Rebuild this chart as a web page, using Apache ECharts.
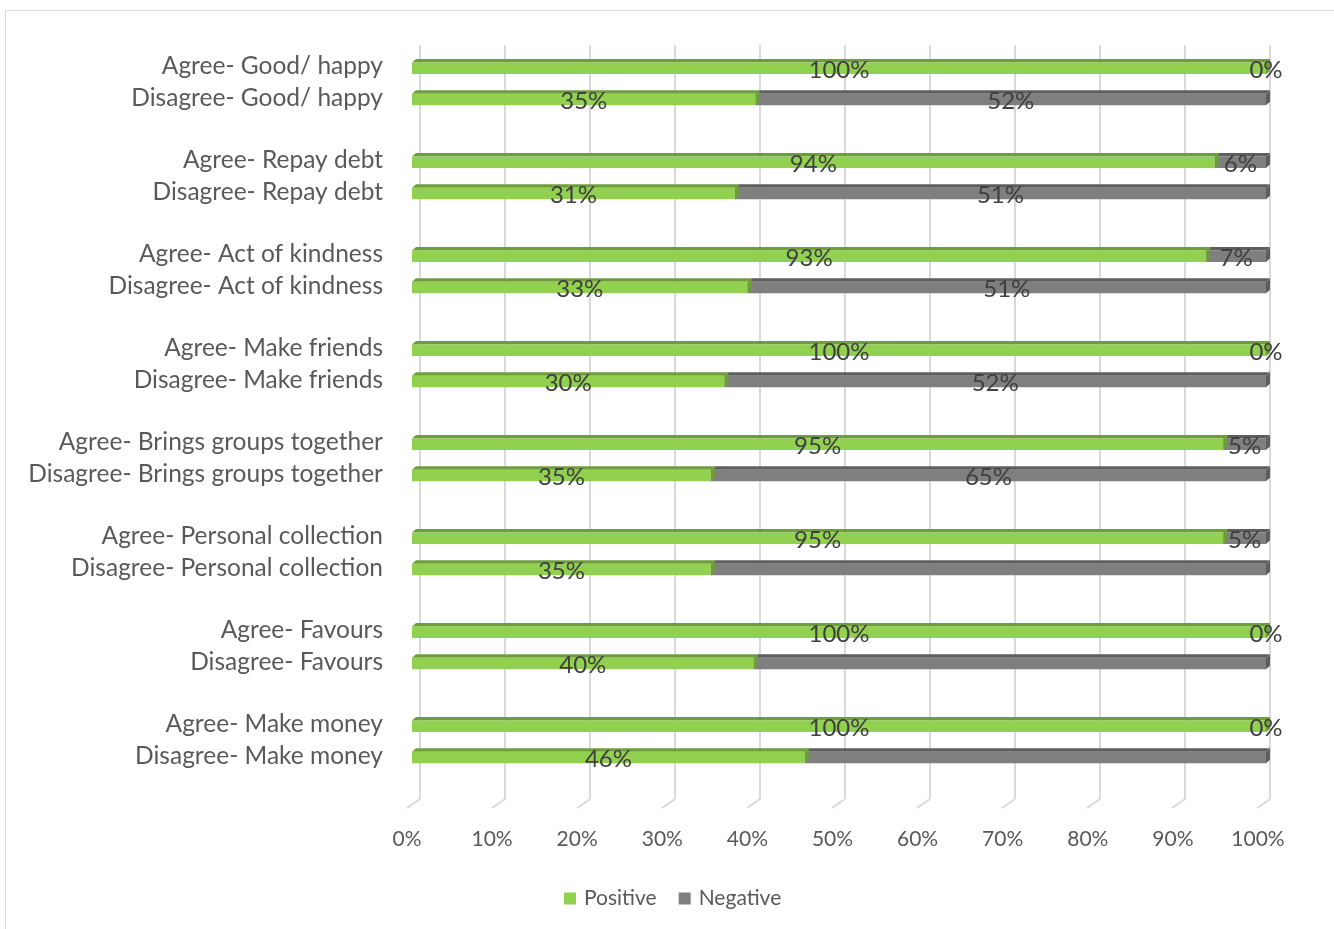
<!DOCTYPE html>
<html>
<head>
<meta charset="utf-8">
<script src="https://cdn.jsdelivr.net/npm/echarts@6/dist/echarts.min.js"></script>
<style>
html,body{margin:0;padding:0;background:#fff;overflow:hidden;}
#frame{position:absolute;left:5px;top:10px;width:1340px;height:940px;border:1px solid #d9d9d9;box-sizing:border-box;}
#chart{position:absolute;left:0;top:0;width:1334px;height:929px;}
</style>
</head>
<body>
<div id="frame"></div>
<div id="chart"></div>
<script>
// ---- data (top to bottom) ----
var categories = [
  'Agree- Good/ happy', 'Disagree- Good/ happy', ' ',
  'Agree- Repay debt', 'Disagree- Repay debt', '  ',
  'Agree- Act of kindness', 'Disagree- Act of kindness', '   ',
  'Agree- Make friends', 'Disagree- Make friends', '    ',
  'Agree- Brings groups together', 'Disagree- Brings groups together', '     ',
  'Agree- Personal collection', 'Disagree- Personal collection', '      ',
  'Agree- Favours', 'Disagree- Favours', '       ',
  'Agree- Make money', 'Disagree- Make money', '        '
];
// null = empty spacer slot
var positive = [100, 35, null, 94, 31, null, 93, 33, null, 100, 30, null, 95, 35, null, 95, 35, null, 100, 40, null, 100, 46, null];
var negative = [0, 52, null, 6, 51, null, 7, 51, null, 0, 52, null, 5, 65, null, 5, 65, null, 0, 60, null, 0, 54, null];
// which negative values carry a visible data label
var negativeLabelShown = [true, true, null, true, true, null, true, true, null, true, true, null, true, true, null, true, false, null, true, false, null, true, false, null];
var xTicks = [0, 10, 20, 30, 40, 50, 60, 70, 80, 90, 100];

// ---- build 100% stacked segments ----
var posData = [], negData = [];
for (var i = 0; i < categories.length; i++) {
  if (positive[i] == null) continue;
  var total = positive[i] + negative[i];
  var pShare = positive[i] / total * 100;
  posData.push([0, pShare, i, positive[i], 1]);
  negData.push([pShare, 100, i, negative[i], negativeLabelShown[i] ? 1 : 0]);
}

function makeRender(front, dark) {
  return function (params, api) {
    var s = api.value(0), e = api.value(1), cat = api.value(2);
    var p0 = api.coord([s, cat]);
    var p1 = api.coord([e, cat]);
    var c = p0[1];
    var x0 = p0[0], x1 = p1[0];
    var dx = 4;
    return {
      type: 'group', children: [
        { type: 'polygon', shape: { points: [[x0, c - 4], [x1, c - 4], [x1 + dx, c - 7.5], [x0 + dx, c - 7.5]] }, style: { fill: dark } },
        { type: 'rect', shape: { x: x0, y: c - 4, width: Math.max(0, x1 - x0), height: 11.5 }, style: { fill: front } },
        { type: 'polygon', shape: { points: [[x1, c - 4], [x1 + dx, c - 7.5], [x1 + dx, c + 4], [x1, c + 7.5]] }, style: { fill: dark } }
      ]
    };
  };
}
function renderLabel(params, api) {
  var s = api.value(0), e = api.value(1), cat = api.value(2);
  var raw = api.value(3), show = api.value(4);
  if (!show) return null;
  var p0 = api.coord([s, cat]);
  var p1 = api.coord([e, cat]);
  return {
    type: 'text',
    style: {
      x: (p0[0] + p1[0]) / 2, y: p0[1] + 3.5, text: raw + '%',
      fill: '#404040', font: '24px Lato', align: 'center', verticalAlign: 'middle'
    }
  };
}

var chart = echarts.init(document.getElementById('chart'));
chart.setOption({
  animation: false,
  backgroundColor: 'transparent',
  grid: [
    { left: 412, right: 68, top: 50.8, bottom: 126.2 },
    { left: 420, right: 64, top: 45, bottom: 130 },
    { left: 407, right: 76, top: 45, bottom: 121 }
  ],
  xAxis: [
    {
      gridIndex: 0, type: 'value', min: 0, max: 100, interval: 10, show: false
    },
    {
      gridIndex: 1, type: 'value', min: 0, max: 100, interval: 10,
      axisLine: { show: false }, axisTick: { show: false }, axisLabel: { show: false },
      splitLine: { show: true, lineStyle: { color: '#d9d9d9', width: 2 } }
    },
    {
      gridIndex: 2, type: 'value', min: 0, max: 100, interval: 10,
      axisLine: { show: false }, axisTick: { show: false }, splitLine: { show: false },
      axisLabel: { formatter: '{value}%', color: '#595959', fontFamily: 'Lato', fontSize: 21, margin: 21 }
    }
  ],
  yAxis: [
    {
      gridIndex: 0, type: 'category', data: categories, inverse: true,
      axisLine: { show: false }, axisTick: { show: false }, splitLine: { show: false },
      axisLabel: { interval: 0, hideOverlap: false, color: '#595959', fontFamily: 'Lato', fontSize: 24.5, margin: 29, padding: [0, 0, 15, 0] }
    },
    { gridIndex: 1, type: 'value', min: 0, max: 1, show: false },
    { gridIndex: 2, type: 'value', min: 0, max: 1, show: false }
  ],
  legend: {
    left: 559, top: 883, itemWidth: 12, itemHeight: 12, itemGap: 22, icon: 'rect',
    textStyle: { color: '#595959', fontFamily: 'Lato', fontSize: 21, padding: [0, 0, 0, 3] },
    data: ['Positive', 'Negative']
  },
  series: [
    {
      type: 'custom', name: 'floor', xAxisIndex: 1, yAxisIndex: 1, silent: true,
      data: xTicks.map(function (t) { return [t, 0]; }),
      encode: { x: 0, y: 1 },
      renderItem: function (params, api) {
        var p = api.coord([api.value(0), 0]);
        return { type: 'line', shape: { x1: p[0], y1: p[1], x2: p[0] - 13, y2: p[1] + 9 }, style: { stroke: '#d9d9d9', lineWidth: 2 } };
      }
    },
    {
      type: 'custom', name: 'Positive', xAxisIndex: 0, yAxisIndex: 0, z: 3,
      itemStyle: { color: '#92D050' },
      data: posData, encode: { x: [0, 1], y: 2 },
      renderItem: makeRender('#92D050', '#6E9E3A')
    },
    {
      type: 'custom', name: 'Negative', xAxisIndex: 0, yAxisIndex: 0, z: 2,
      itemStyle: { color: '#7F7F7F' },
      data: negData, encode: { x: [0, 1], y: 2 },
      renderItem: makeRender('#7F7F7F', '#5E5E5E')
    },
    {
      type: 'custom', name: 'posLabels', xAxisIndex: 0, yAxisIndex: 0, z: 10, silent: true,
      data: posData, encode: { x: [0, 1], y: 2 }, renderItem: renderLabel
    },
    {
      type: 'custom', name: 'negLabels', xAxisIndex: 0, yAxisIndex: 0, z: 10, silent: true,
      data: negData, encode: { x: [0, 1], y: 2 }, renderItem: renderLabel
    }
  ]
});
</script>
</body>
</html>
